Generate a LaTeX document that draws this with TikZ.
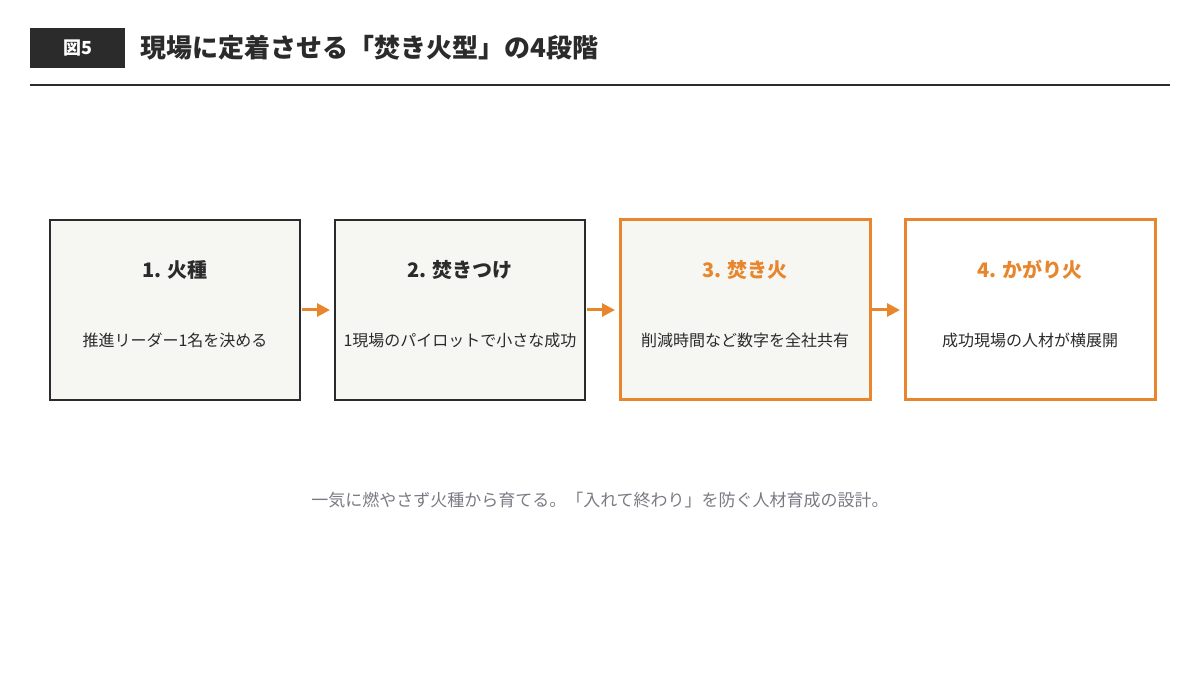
\documentclass[tikz,border=0pt]{standalone}
\usepackage{fontspec}
\setmainfont{Noto Sans CJK JP}
\usetikzlibrary{positioning,chains,arrows.meta}
\definecolor{firedark}{HTML}{2B2B2B}
\definecolor{fireorange}{HTML}{E8862E}
\definecolor{paper}{HTML}{F6F6F3}
\definecolor{notegray}{HTML}{7A7A84}
\tikzset{
>={Triangle[length=13pt,width=13pt]},
  stagebox/.style={
    rectangle,
    draw=firedark, line width=1.8pt,
    fill=paper,
    outer sep=0pt,
    minimum width=250pt,
    minimum height=180pt,
    on chain},
  hotbox/.style={stagebox, draw=fireorange, line width=3pt},
  stagehead/.style={font=\bfseries\fontsize{20}{24}\selectfont, text=firedark},
  stagetext/.style={font=\fontsize{16}{19}\selectfont, text=firedark},
  every join/.style={->, draw=fireorange, line width=3pt, shorten <=2pt, shorten >=5pt},
}
\begin{document}
\begin{tikzpicture}
  [x=1pt, y=-1pt,
  node distance=35pt,
  start chain=going right,]
  \useasboundingbox (0,0) rectangle (1200,700);
  % title
  \node[fill=firedark, minimum width=95pt, minimum height=40pt, inner sep=0pt,
        text=white, font=\bfseries\fontsize{18}{20}\selectfont] (fig) at (77.5,48) {図5};
  \node[anchor=west, inner sep=0pt, text=firedark,
        font=\bfseries\fontsize{26}{30}\selectfont] (title) at (140,48) {現場に定着させる「焚き火型」の4段階};
  \coordinate (ruleL) at (30,85);
  \coordinate (ruleR) at (1170,85);
  \draw[firedark, line width=2pt] (ruleL) -- (ruleR);
  % stages
  \node[stagebox] (spark) at (175,310) {};
  \node[stagebox, join] (kindle) {};
  \node[hotbox, join] (bonfire) {};
  \node[hotbox, fill=white, join] (beacon) {};
  \node[stagehead] at ([yshift=-50pt]spark.north) {1. 火種};
  \node[stagehead] at ([yshift=-50pt]kindle.north) {2. 焚きつけ};
  \node[stagehead, text=fireorange] at ([yshift=-50pt]bonfire.north) {3. 焚き火};
  \node[stagehead, text=fireorange] at ([yshift=-50pt]beacon.north) {4. かがり火};
  \node[stagetext] at ([yshift=-30pt]spark.center) {推進リーダー1名を決める};
  \node[stagetext] at ([yshift=-30pt]kindle.center) {1現場のパイロットで小さな成功};
  \node[stagetext] at ([yshift=-30pt]bonfire.center) {削減時間など数字を全社共有};
  \node[stagetext] at ([yshift=-30pt]beacon.center) {成功現場の人材が横展開};
  % note
  \node[text=notegray, font=\fontsize{17}{20}\selectfont] (note) at (600,500)
    {一気に燃やさず火種から育てる。「入れて終わり」を防ぐ人材育成の設計。};
\end{tikzpicture}
\end{document}
